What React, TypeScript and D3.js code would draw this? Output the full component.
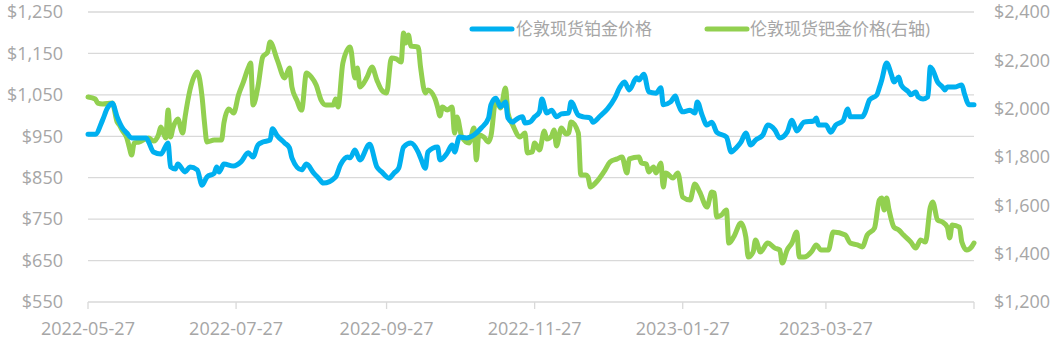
import * as d3 from 'd3'

const platDates = [
  '2022-05-27','2022-05-30','2022-06-02','2022-06-04','2022-06-06','2022-06-08','2022-06-10','2022-06-12','2022-06-14','2022-06-20',
  '2022-06-21','2022-06-23','2022-06-26','2022-06-29','2022-06-30','2022-07-02','2022-07-03','2022-07-06','2022-07-08','2022-07-11',
  '2022-07-13','2022-07-15','2022-07-18','2022-07-19','2022-07-20','2022-07-22','2022-07-26','2022-07-29','2022-08-01','2022-08-03',
  '2022-08-05','2022-08-07','2022-08-10','2022-08-11','2022-08-13','2022-08-16','2022-08-18','2022-08-19','2022-08-23','2022-08-25',
  '2022-08-28','2022-08-30','2022-09-01','2022-09-06','2022-09-08','2022-09-11','2022-09-12','2022-09-14','2022-09-16','2022-09-20',
  '2022-09-23','2022-09-25','2022-09-28','2022-09-30','2022-10-02','2022-10-04','2022-10-07','2022-10-10','2022-10-11','2022-10-13',
  '2022-10-14','2022-10-18','2022-10-19','2022-10-22','2022-10-24','2022-10-25','2022-10-27','2022-10-30','2022-11-02','2022-11-05',
  '2022-11-08','2022-11-09','2022-11-11','2022-11-13','2022-11-15','2022-11-16','2022-11-18','2022-11-19','2022-11-22','2022-11-23',
  '2022-11-25','2022-11-27','2022-11-29','2022-11-30','2022-12-02','2022-12-04','2022-12-06','2022-12-08','2022-12-11','2022-12-12',
  '2022-12-15','2022-12-17','2022-12-20','2022-12-21','2022-12-24','2022-12-27','2022-12-30','2023-01-01','2023-01-03','2023-01-05',
  '2023-01-08','2023-01-09','2023-01-11','2023-01-13','2023-01-16','2023-01-18','2023-01-19','2023-01-22','2023-01-24','2023-01-25',
  '2023-01-27','2023-01-30','2023-02-01','2023-02-02','2023-02-04','2023-02-06','2023-02-08','2023-02-10','2023-02-14','2023-02-16',
  '2023-02-18','2023-02-20','2023-02-22','2023-02-24','2023-02-26','2023-03-01','2023-03-03','2023-03-06','2023-03-08','2023-03-11',
  '2023-03-13','2023-03-15','2023-03-18','2023-03-22','2023-03-23','2023-03-24','2023-03-27','2023-03-29','2023-03-31','2023-04-03',
  '2023-04-05','2023-04-06','2023-04-11','2023-04-12','2023-04-14','2023-04-17','2023-04-18','2023-04-19','2023-04-21','2023-04-23',
  '2023-04-24','2023-04-26','2023-04-27','2023-04-30','2023-05-01','2023-05-03','2023-05-04','2023-05-06','2023-05-08','2023-05-09',
  '2023-05-10','2023-05-12','2023-05-14','2023-05-15','2023-05-16','2023-05-19','2023-05-22','2023-05-23','2023-05-25','2023-05-27',
]
const platValues = [
  955, 955, 989, 1018, 1030, 997, 972, 958, 946, 946,
  936, 912, 907, 934, 876, 871, 883, 864, 876, 869,
  832, 852, 861, 876, 864, 883, 878, 888, 910, 900,
  929, 936, 941, 968, 951, 934, 922, 898, 869, 883,
  861, 849, 837, 852, 881, 900, 898, 917, 893, 931,
  876, 864, 849, 861, 873, 924, 934, 912, 898, 873,
  912, 924, 893, 910, 929, 912, 948, 946, 953, 970,
  994, 1026, 1042, 1021, 1033, 994, 984, 989, 997, 982,
  984, 997, 1009, 1040, 1006, 1013, 997, 1004, 1006, 1033,
  1001, 997, 994, 984, 999, 1016, 1042, 1067, 1081, 1062,
  1091, 1086, 1100, 1057, 1054, 1067, 1026, 1033, 1047, 1030,
  1009, 1013, 1006, 1033, 1001, 977, 984, 960, 948, 912,
  922, 936, 958, 929, 941, 953, 977, 965, 946, 960,
  989, 963, 984, 987, 994, 977, 977, 960, 977, 987,
  1016, 997, 997, 1006, 1038, 1050, 1067, 1086, 1127, 1098,
  1081, 1093, 1074, 1057, 1050, 1057, 1045, 1040, 1045, 1117,
  1110, 1081, 1069, 1062, 1069, 1069, 1074, 1054, 1026, 1026,
]

const pallDates = [
  '2022-05-27','2022-05-30','2022-05-31','2022-06-02','2022-06-06','2022-06-08','2022-06-09','2022-06-10','2022-06-12','2022-06-13',
  '2022-06-14','2022-06-15','2022-06-17','2022-06-21','2022-06-23','2022-06-25','2022-06-26','2022-06-28','2022-06-29','2022-06-30',
  '2022-07-01','2022-07-03','2022-07-05','2022-07-06','2022-07-08','2022-07-10','2022-07-11','2022-07-13','2022-07-14','2022-07-15',
  '2022-07-18','2022-07-21','2022-07-22','2022-07-24','2022-07-26','2022-07-28','2022-07-30','2022-08-01','2022-08-02','2022-08-03',
  '2022-08-05','2022-08-07','2022-08-09','2022-08-10','2022-08-13','2022-08-16','2022-08-18','2022-08-19','2022-08-21','2022-08-23',
  '2022-08-25','2022-08-27','2022-08-29','2022-08-31','2022-09-02','2022-09-05','2022-09-06','2022-09-07','2022-09-09','2022-09-12',
  '2022-09-14','2022-09-15','2022-09-16','2022-09-19','2022-09-21','2022-09-23','2022-09-25','2022-09-27','2022-09-29','2022-10-01',
  '2022-10-03','2022-10-04','2022-10-05','2022-10-06','2022-10-07','2022-10-10','2022-10-11','2022-10-13','2022-10-14','2022-10-17',
  '2022-10-18','2022-10-19','2022-10-20','2022-10-22','2022-10-24','2022-10-25','2022-10-26','2022-10-28','2022-10-31','2022-11-02',
  '2022-11-03','2022-11-04','2022-11-06','2022-11-08','2022-11-09','2022-11-11','2022-11-13','2022-11-15','2022-11-16','2022-11-18',
  '2022-11-21','2022-11-23','2022-11-24','2022-11-26','2022-11-27','2022-11-29','2022-12-01','2022-12-02','2022-12-04','2022-12-05',
  '2022-12-06','2022-12-08','2022-12-10','2022-12-11','2022-12-12','2022-12-15','2022-12-16','2022-12-18','2022-12-19','2022-12-20',
  '2022-12-22','2022-12-26','2022-12-28','2022-12-31','2023-01-02','2023-01-04','2023-01-05','2023-01-09','2023-01-10','2023-01-12',
  '2023-01-13','2023-01-15','2023-01-16','2023-01-18','2023-01-19','2023-01-20','2023-01-23','2023-01-25','2023-01-27','2023-01-30',
  '2023-02-01','2023-02-03','2023-02-06','2023-02-08','2023-02-09','2023-02-10','2023-02-12','2023-02-14','2023-02-15','2023-02-17',
  '2023-02-20','2023-02-22','2023-02-23','2023-02-25','2023-02-26','2023-02-28','2023-03-03','2023-03-06','2023-03-08','2023-03-09',
  '2023-03-11','2023-03-13','2023-03-15','2023-03-16','2023-03-18','2023-03-21','2023-03-23','2023-03-25','2023-03-28','2023-03-30',
  '2023-04-04','2023-04-06','2023-04-09','2023-04-11','2023-04-13','2023-04-16','2023-04-18','2023-04-19','2023-04-20','2023-04-21',
  '2023-04-22','2023-04-24','2023-04-26','2023-04-28','2023-05-01','2023-05-03','2023-05-05','2023-05-07','2023-05-09','2023-05-10',
  '2023-05-12','2023-05-14','2023-05-16','2023-05-17','2023-05-18','2023-05-21','2023-05-22','2023-05-24','2023-05-26','2023-05-27',
]
const pallValues = [
  2048, 2040, 2023, 2019, 2023, 1945, 1932, 1912, 1879, 1841,
  1808, 1858, 1862, 1879, 1866, 1891, 1924, 1879, 1994, 1883,
  1920, 1957, 1899, 1966, 2077, 2139, 2152, 2048, 1941, 1862,
  1870, 1870, 1941, 1999, 1982, 2057, 2110, 2168, 2189, 2015,
  2090, 2214, 2234, 2276, 2201, 2127, 2168, 2090, 2036, 1994,
  2148, 2131, 2098, 2036, 2015, 2015, 2040, 2007, 2189, 2255,
  2127, 2168, 2090, 2131, 2172, 2119, 2077, 2065, 2210, 2206,
  2193, 2313, 2272, 2305, 2259, 2255, 2172, 2065, 2077, 2040,
  2007, 1970, 2007, 1994, 2007, 1899, 1966, 1883, 1858, 1920,
  1788, 1891, 1883, 1862, 1887, 2036, 2003, 2086, 1982, 1932,
  1883, 1899, 1817, 1821, 1858, 1829, 1908, 1874, 1887, 1912,
  1846, 1920, 1895, 1899, 1945, 1899, 1726, 1726, 1717, 1676,
  1692, 1746, 1779, 1792, 1800, 1734, 1792, 1800, 1775, 1771,
  1738, 1759, 1734, 1775, 1676, 1734, 1713, 1734, 1634, 1622,
  1688, 1655, 1593, 1655, 1651, 1552, 1560, 1581, 1444, 1469,
  1527, 1469, 1386, 1407, 1457, 1407, 1444, 1423, 1415, 1361,
  1415, 1444, 1490, 1386, 1386, 1407, 1436, 1415, 1415, 1490,
  1477, 1444, 1436, 1428, 1477, 1506, 1622, 1630, 1581, 1630,
  1581, 1510, 1498, 1477, 1448, 1423, 1457, 1448, 1593, 1614,
  1539, 1531, 1510, 1465, 1519, 1510, 1448, 1415, 1428, 1444,
]

const leftTicks = [550, 650, 750, 850, 950, 1050, 1150, 1250]
const rightTicks = [1200, 1400, 1600, 1800, 2000, 2200, 2400]
const xTickLabels = ['2022-05-27', '2022-07-27', '2022-09-27', '2022-11-27', '2023-01-27', '2023-03-27']
const xEnd = '2023-05-27'
const seriesNames = ['伦敦现货铂金价格', '伦敦现货钯金价格(右轴)']
const colors = ['#00b0f0', '#92d050']

const W = 1061
const H = 345
const left = 88
const right = 974
const top = 12
const bottom = 302
const font = '"Open Sans", "Noto Sans CJK SC", sans-serif'
const grey = '#a6a6a6'

const parse = d3.timeParse('%Y-%m-%d')

export default function App() {
  const x = d3.scaleTime()
    .domain([parse(xTickLabels[0]), parse(xEnd)])
    .range([left, right])
  const yL = d3.scaleLinear().domain([550, 1250]).range([bottom, top])
  const yR = d3.scaleLinear().domain([1200, 2400]).range([bottom, top])

  const plat = platDates.map((d, i) => ({ date: parse(d), v: platValues[i] }))
  const pall = pallDates.map((d, i) => ({ date: parse(d), v: pallValues[i] }))

  const lineL = d3.line().x((d) => x(d.date)).y((d) => yL(d.v)).curve(d3.curveMonotoneX)
  const lineR = d3.line().x((d) => x(d.date)).y((d) => yR(d.v)).curve(d3.curveMonotoneX)

  const fmt = d3.format('$,')
  const tickDates = [...xTickLabels, xEnd]

  return (
    <svg width={W} height={H} style={{ position: 'absolute', left: 0, top: 0 }} fontFamily={font}>
      {leftTicks.map((t) => (
        <g key={t}>
          <line x1={left} x2={right} y1={yL(t)} y2={yL(t)} stroke="#d9d9d9" strokeWidth={1.3} />
          <text x={63} y={yL(t)} dy="0.35em" textAnchor="end" fontSize={18} fill={grey}>{fmt(t)}</text>
        </g>
      ))}
      {rightTicks.map((t) => (
        <text key={t} x={994} y={yR(t)} dy="0.35em" fontSize={18} fill={grey}>{fmt(t)}</text>
      ))}
      {tickDates.map((d) => (
        <line key={d} x1={x(parse(d))} x2={x(parse(d))} y1={bottom} y2={bottom + 7} stroke="#d9d9d9" strokeWidth={1.3} />
      ))}
      {xTickLabels.map((d) => (
        <text key={d} x={x(parse(d))} y={335} textAnchor="middle" fontSize={18} fill={grey}>{d}</text>
      ))}
      <path d={lineR(pall)} fill="none" stroke={colors[1]} strokeWidth={5} strokeLinejoin="round" strokeLinecap="round" />
      <path d={lineL(plat)} fill="none" stroke={colors[0]} strokeWidth={5} strokeLinejoin="round" strokeLinecap="round" />
      <g>
        <line x1={472} x2={512} y1={29} y2={29} stroke={colors[0]} strokeWidth={5} strokeLinecap="round" />
        <text x={516} y={29} dy="0.35em" fontSize={17} fill={grey}>{seriesNames[0]}</text>
        <line x1={707} x2={747} y1={29} y2={29} stroke={colors[1]} strokeWidth={5} strokeLinecap="round" />
        <text x={750} y={29} dy="0.35em" fontSize={17} fill={grey}>{seriesNames[1]}</text>
      </g>
    </svg>
  )
}
